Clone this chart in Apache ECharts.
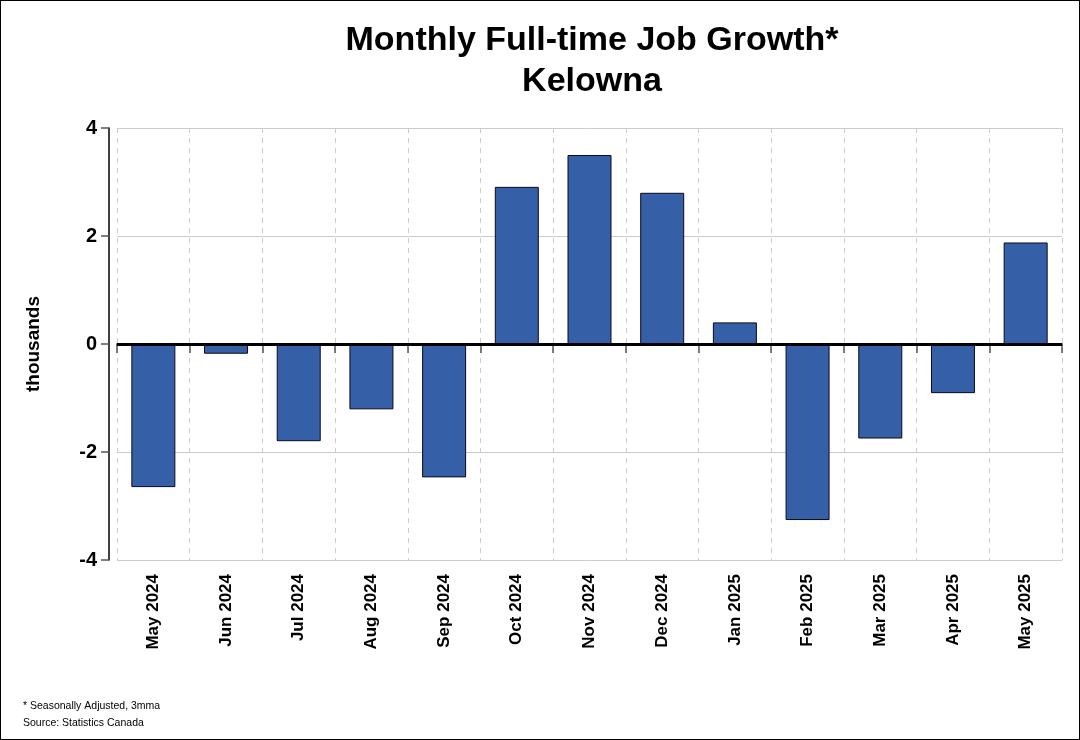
<!DOCTYPE html>
<html>
<head>
<meta charset="utf-8">
<script src="https://cdn.jsdelivr.net/npm/echarts@6/dist/echarts.min.js"></script>
<style>
  html, body { margin: 0; padding: 0; background: #fff; }
  #chart { width: 1078px; height: 738px; border: 1px solid #000; }
</style>
</head>
<body>
<div id="chart"></div>
<script>
    // monthly full-time job change, thousands (3mma, SA)
    var months = ['May 2024','Jun 2024','Jul 2024','Aug 2024','Sep 2024','Oct 2024','Nov 2024',
                  'Dec 2024','Jan 2025','Feb 2025','Mar 2025','Apr 2025','May 2025'];
    var jobGrowth = [-2.65, -0.18, -1.80, -1.21, -2.47, 2.91, 3.50, 2.80, 0.40, -3.26, -1.75, -0.91, 1.88];

    var chart = echarts.init(document.getElementById('chart'));
    var font = 'Liberation Sans, Arial, sans-serif';

    chart.setOption({
        animation: false,
        textStyle: { fontFamily: font },
        title: {
            text: 'Monthly Full-time Job Growth*\nKelowna',
            left: 586,
            textAlign: 'center',
            top: 14,
            textStyle: { fontSize: 34, fontWeight: 'bold', color: '#000', lineHeight: 41, fontFamily: font }
        },
        graphic: [{
            type: 'text', left: 22, top: 697,
            style: { text: '* Seasonally Adjusted, 3mma\nSource: Statistics Canada', fontSize: 10.5, lineHeight: 17, fill: '#000', fontFamily: font }
        }],
        grid: { left: 116, right: 17, top: 127, bottom: 179 },
        xAxis: {
            type: 'category',
            data: months,
            axisLine: { lineStyle: { color: '#000', width: 1.5 } },
            axisTick: { show: true, length: 9, lineStyle: { color: '#555', width: 1.5 } },
            axisLabel: { rotate: 90, fontSize: 17, fontWeight: 'bold', color: '#000', margin: 14 },
            splitLine: { show: true, lineStyle: { color: '#ccc', type: [5, 5] } }
        },
        yAxis: {
            type: 'value',
            min: -4, max: 4, interval: 2,
            offset: 8,
            name: 'thousands',
            nameLocation: 'middle',
            nameGap: 66,
            nameTextStyle: { fontSize: 19, fontWeight: 'bold', color: '#000' },
            axisLine: { show: true, lineStyle: { color: '#000', width: 1.5 } },
            axisTick: { show: true, length: 8, lineStyle: { color: '#555', width: 1.5 } },
            axisLabel: { fontSize: 20, fontWeight: 'bold', color: '#000', margin: 12 },
            splitLine: { lineStyle: { color: '#ccc' } }
        },
        series: [{
            type: 'bar',
            data: jobGrowth,
            barWidth: 44,
            itemStyle: { color: '#3560a8', borderColor: '#0a0a1a', borderWidth: 1 },
            markLine: {
                silent: true,
                symbol: 'none',
                label: { show: false },
                lineStyle: { color: '#000', width: 3, type: 'solid' },
                data: [{ yAxis: 0 }]
            }
        }]
    });
</script>
</body>
</html>
